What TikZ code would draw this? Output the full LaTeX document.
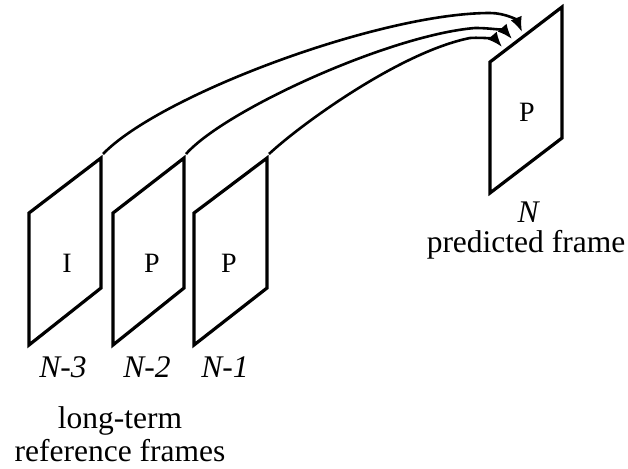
\documentclass[tikz,border=0pt]{standalone}
\usepackage{fontspec}
\setmainfont{Liberation Serif}
\usetikzlibrary{arrows.meta}
\begin{document}
\begin{tikzpicture}[x=1pt,y=-1pt,
  frm/.style={line width=3.2pt, line join=miter},
  conn/.style={line width=2.6pt, -{Latex[length=15pt,width=12pt]}},
  lbl/.style={font=\fontsize{31.5}{34}\selectfont, inner sep=0},
  flbl/.style={font=\fontsize{28}{30}\selectfont, inner sep=0}]
\useasboundingbox (0,0) rectangle (628,468);
% frames
\draw[frm] (29,213) -- (101,158) -- (101,288) -- (29,345) -- cycle;
\draw[frm] (113,213) -- (184,158) -- (184,288) -- (113,345) -- cycle;
\draw[frm] (194,213) -- (267,158) -- (267,288) -- (194,345) -- cycle;
\draw[frm] (490,62) -- (562,7) -- (562,138) -- (490,193) -- cycle;
% frame letters
\node[flbl] (fI) at (67,263) {I};
\node[flbl] (fP2) at (152,263) {P};
\node[flbl] (fP1) at (229,263) {P};
\node[flbl] (fPN) at (527,112) {P};
% labels
\node[lbl, anchor=base] (l3) at (63,377) {\itshape N-3};
\node[lbl, anchor=base] (l2) at (147,377) {\itshape N-2};
\node[lbl, anchor=base] (l1) at (225,377) {\itshape N-1};
\node[lbl, anchor=base] (lt) at (120,428) {long-term};
\node[lbl, anchor=base] (rf) at (120,461) {reference frames};
\node[lbl, anchor=base] (lN) at (528,222) {\itshape N};
\node[lbl, anchor=base] (pf) at (526,252) {predicted frame};
% connector ends
\coordinate (s1) at (103,154);
\coordinate (s2) at (186,154);
\coordinate (s3) at (269,154);
\coordinate (m1) at (490,13);
\coordinate (m2) at (475,28);
\coordinate (m3) at (470,38);
\coordinate (t1) at (522,32);
\coordinate (t2) at (512,39);
\coordinate (t3) at (502,47);
% connectors
\draw[conn] (s1) .. controls (160,95) and (380,13) .. (m1) .. controls (505,13) and (517,20) .. (t1);
\draw[conn] (s2) .. controls (225,110) and (390,35) .. (m2) .. controls (492,28) and (505,31) .. (t2);
\draw[conn] (s3) .. controls (300,125) and (400,52) .. (m3) .. controls (486,37) and (496,40) .. (t3);
\end{tikzpicture}
\end{document}
